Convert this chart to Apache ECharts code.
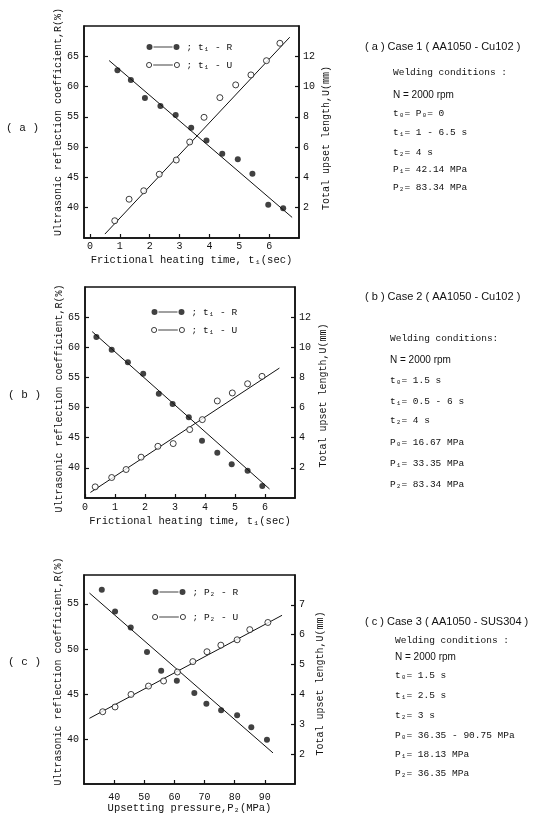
<!DOCTYPE html>
<html><head><meta charset="utf-8">
<script src="https://cdn.jsdelivr.net/npm/echarts@6/dist/echarts.min.js"></script>
<style>html,body{margin:0;padding:0;background:#fff}#c{width:542px;height:819px}</style>
</head><body><div id="c"></div>
<script>
// ---------- DATA ----------
// Panel (a): t1 - R and t1 - U
const aRx = [0.92,1.37,1.84,2.36,2.87,3.39,3.90,4.43,4.95,5.44,5.97,6.47];
const aR  = [62.7,61.1,58.1,56.8,55.3,53.2,51.1,48.9,48.0,45.6,40.5,39.9];
const aUx = [0.83,1.31,1.80,2.32,2.89,3.34,3.82,4.35,4.88,5.39,5.91,6.36];
const aU  = [1.14,2.56,3.12,4.21,5.15,6.34,7.97,9.27,10.11,10.77,11.71,12.86];
const aFitRx = [0.64,6.77], aFitR = [64.3,38.4];
const aFitUx = [0.50,6.69], aFitU = [0.26,13.26];
const aXTicks = [0,1,2,3,4,5,6];

// Panel (b)
const bRx = [0.38,0.89,1.43,1.94,2.46,2.92,3.46,3.90,4.41,4.89,5.42,5.91];
const bR  = [61.7,59.6,57.5,55.6,52.3,50.6,48.4,44.5,42.5,40.6,39.5,37.0];
const bUx = [0.34,0.89,1.37,1.87,2.43,2.94,3.49,3.91,4.41,4.91,5.42,5.90];
const bU  = [0.74,1.36,1.89,2.71,3.43,3.61,4.54,5.20,6.44,6.97,7.58,8.07];
const bFitRx = [0.24,6.15], bFitR = [62.6,36.5];
const bFitUx = [0.18,6.48], bFitU = [0.37,8.62];

// Panel (c): P2 - R and P2 - U
const cRx = [35.9,40.3,45.5,50.9,55.6,60.8,66.6,70.6,75.5,80.8,85.5,90.7];
const cR  = [56.55,54.16,52.38,49.65,47.57,46.46,45.10,43.90,43.18,42.63,41.30,39.92];
const cUx = [36.2,40.3,45.6,51.4,56.4,61.0,66.1,70.8,75.4,80.8,85.0,91.0];
const cU  = [3.42,3.58,4.00,4.28,4.45,4.75,5.10,5.43,5.65,5.83,6.17,6.41];
const cFitRx = [31.8,92.7], cFitR = [56.2,38.45];
const cFitUx = [31.8,95.7], cFitU = [3.2,6.65];

// Texts
const nameR = 'Ultrasonic reflection coefficient,R(%)';
const nameU = 'Total upset length,U(mm)';
const nameT = 'Frictional heating time, t\u2081(sec)';
const nameP = 'Upsetting pressure,P\u2082(MPa)';
const legA = ['t\u2081 - R','t\u2081 - U'];
const legC = ['P\u2082 - R','P\u2082 - U'];
const panelTags = ['( a )','( b )','( c )'];
const infoA = ['( a ) Case 1 ( AA1050 - Cu102 )','Welding conditions :','N = 2000 rpm','t\u2080= P\u2080= 0','t\u2081= 1 - 6.5 s','t\u2082= 4 s','P\u2081= 42.14 MPa','P\u2082= 83.34 MPa'];
const infoB = ['( b ) Case 2 ( AA1050 - Cu102 )','Welding conditions:','N = 2000 rpm','t\u2080= 1.5 s','t\u2081= 0.5 - 6 s','t\u2082= 4 s','P\u2080= 16.67 MPa','P\u2081= 33.35 MPa','P\u2082= 83.34 MPa'];
const infoC = ['( c ) Case 3 ( AA1050 - SUS304 )','Welding conditions :','N = 2000 rpm','t\u2080= 1.5 s','t\u2081= 2.5 s','t\u2082= 3 s','P\u2080= 36.35 - 90.75 MPa','P\u2081= 18.13 MPa','P\u2082= 36.35 MPa'];

// ---------- STYLE / LAYOUT ----------
const MONO = '"Liberation Mono","DejaVu Sans Mono",monospace';
const SANS = '"Liberation Sans","DejaVu Sans",sans-serif';
const INK = '#111';
const zip = (xs, ys) => xs.map((x, i) => [x, ys[i]]);

function xAxis(gi, min, max, interval, name, gap, margin, custom, hideMin, hideMax) {
  const ax = {
    type:'value', gridIndex:gi, min, max,
    name, nameLocation:'middle', nameGap:gap,
    nameTextStyle:{fontFamily:MONO, fontSize:10.5, color:INK},
    axisLine:{show:true, onZero:false, lineStyle:{color:INK, width:1.5}},
    axisTick:{show:true, inside:true, length:4, lineStyle:{color:INK, width:1.2}},
    axisLabel:{margin, fontFamily:MONO, fontSize:10, color:INK, showMinLabel:!hideMin, showMaxLabel:!hideMax},
    splitLine:{show:false}
  };
  if (interval) ax.interval = interval;
  if (custom) { ax.axisTick.customValues = custom; ax.axisLabel.customValues = custom; }
  return ax;
}
// shift > 0 moves the rotated name up, < 0 moves it down
function yAxis(gi, pos, min, max, interval, name, gap, margin, shift) {
  const pad = shift >= 0 ? [0, 0, 0, 2 * shift] : [0, -2 * shift, 0, 0];
  return {
    type:'value', gridIndex:gi, position:pos, min, max, interval,
    name, nameLocation:'middle', nameGap:gap, nameRotate:90,
    nameTextStyle:{fontFamily:MONO, fontSize:10, color:INK, padding:pad},
    axisLine:{show:true, onZero:false, lineStyle:{color:INK, width:1.5}},
    axisTick:{show:true, inside:true, length:4, lineStyle:{color:INK, width:1.2}},
    axisLabel:{margin, fontFamily:MONO, fontSize:10, color:INK, showMinLabel:false, showMaxLabel:false},
    splitLine:{show:false}
  };
}
function dots(name, xi, yi, data, hollow) {
  return {
    type:'scatter', name, xAxisIndex:xi, yAxisIndex:yi, data, symbol:'circle', symbolSize:6, z:5,
    itemStyle: hollow ? {color:'#fff', borderColor:INK, borderWidth:1} : {color:INK, borderWidth:0}
  };
}
function fit(xi, yi, data) {
  return {type:'line', xAxisIndex:xi, yAxisIndex:yi, data, symbol:'none', silent:true, z:3,
          lineStyle:{color:INK, width:1}};
}
const ICON_FILLED = 'path://M0,3A3,3,0,1,1,6,3A3,3,0,1,1,0,3ZM7,2.5L26,2.5L26,3.5L7,3.5ZM27,3A3,3,0,1,1,33,3A3,3,0,1,1,27,3Z';
const ICON_HOLLOW = 'path://M0.5,3A2.5,2.5,0,1,1,5.5,3A2.5,2.5,0,1,1,0.5,3ZM7,3L26,3M27.5,3A2.5,2.5,0,1,1,32.5,3A2.5,2.5,0,1,1,27.5,3Z';
function legend(names, left, top, gap) {
  return {
    orient:'vertical', left, top, itemGap:gap, itemWidth:33, itemHeight:6,
    selectedMode:false,
    formatter: n => '; ' + n,
    textStyle:{fontFamily:MONO, fontSize:9.5, color:INK, padding:[0,0,0,2]},
    data:[
      {name:names[0], icon:ICON_FILLED, itemStyle:{color:INK, borderWidth:0}},
      {name:names[1], icon:ICON_HOLLOW, itemStyle:{color:'#fff', borderColor:INK, borderWidth:1}}
    ]
  };
}
function info(lines, ys, xh, xb) {
  return lines.map((t, i) => ({
    type:'text', x: i === 0 ? xh : xb, y: ys[i],
    style:{text:t, fill:INK, verticalAlign:'middle',
           font: i === 0 ? '11px ' + SANS : (t.startsWith('N') ? '10px ' + SANS : '9.5px ' + MONO)}
  }));
}

const option = {
  animation:false,
  backgroundColor:'#fff',
  textStyle:{fontFamily:MONO, color:INK},
  grid:[
    {left:84, top:26, width:215, height:212, show:true, borderColor:INK, borderWidth:1.5, backgroundColor:'transparent'},
    {left:85, top:287, width:210, height:211, show:true, borderColor:INK, borderWidth:1.5, backgroundColor:'transparent'},
    {left:84, top:575, width:211, height:209, show:true, borderColor:INK, borderWidth:1.5, backgroundColor:'transparent'}
  ],
  xAxis:[
    xAxis(0, -0.2, 7, null, nameT, 17, 3, aXTicks, false, false),
    xAxis(1, 0, 7, 1, nameT, 18, 4, null, false, true),
    xAxis(2, 30, 100, 10, nameP, 19, 8, null, true, true)
  ],
  yAxis:[
    yAxis(0, 'left', 35, 70, 5, nameR, 21, 5, 10),
    yAxis(0, 'right', 0, 14, 2, nameU, 22, 4, -6),
    yAxis(1, 'left', 35, 70, 5, nameR, 21, 5, -6),
    yAxis(1, 'right', 0, 14, 2, nameU, 23, 4, -3),
    yAxis(2, 'left', 35, 58.2, 5, nameR, 21, 5, 8),
    yAxis(2, 'right', 1, 8, 1, nameU, 20, 4, -4)
  ],
  legend:[
    legend(legA, 141, 37, 8),
    legend(legA, 146, 302, 8),
    legend(legC, 147, 582, 15)
  ],
  series:[
    fit(0, 0, zip(aFitRx, aFitR)), fit(0, 1, zip(aFitUx, aFitU)),
    dots(legA[0], 0, 0, zip(aRx, aR), false), dots(legA[1], 0, 1, zip(aUx, aU), true),
    fit(1, 2, zip(bFitRx, bFitR)), fit(1, 3, zip(bFitUx, bFitU)),
    dots(legA[0], 1, 2, zip(bRx, bR), false), dots(legA[1], 1, 3, zip(bUx, bU), true),
    fit(2, 4, zip(cFitRx, cFitR)), fit(2, 5, zip(cFitUx, cFitU)),
    dots(legC[0], 2, 4, zip(cRx, cR), false), dots(legC[1], 2, 5, zip(cUx, cU), true)
  ],
  graphic:[
    {type:'text', x:6, y:128, style:{text:panelTags[0], font:'11px '+MONO, fill:INK, verticalAlign:'middle'}},
    {type:'text', x:8, y:395, style:{text:panelTags[1], font:'11px '+MONO, fill:INK, verticalAlign:'middle'}},
    {type:'text', x:8, y:662, style:{text:panelTags[2], font:'11px '+MONO, fill:INK, verticalAlign:'middle'}},
    ...info(infoA, [47,72,95,113,132,152,169,187], 365, 393),
    ...info(infoB, [297,338,360,380,401,420,442,463,484], 365, 390),
    ...info(infoC, [622,640,657,675,695,715,735,754,773], 365, 395)
  ]
};
const chart = echarts.init(document.getElementById('c'), null, {renderer:'canvas'});
chart.setOption(option);
</script>
</body></html>
